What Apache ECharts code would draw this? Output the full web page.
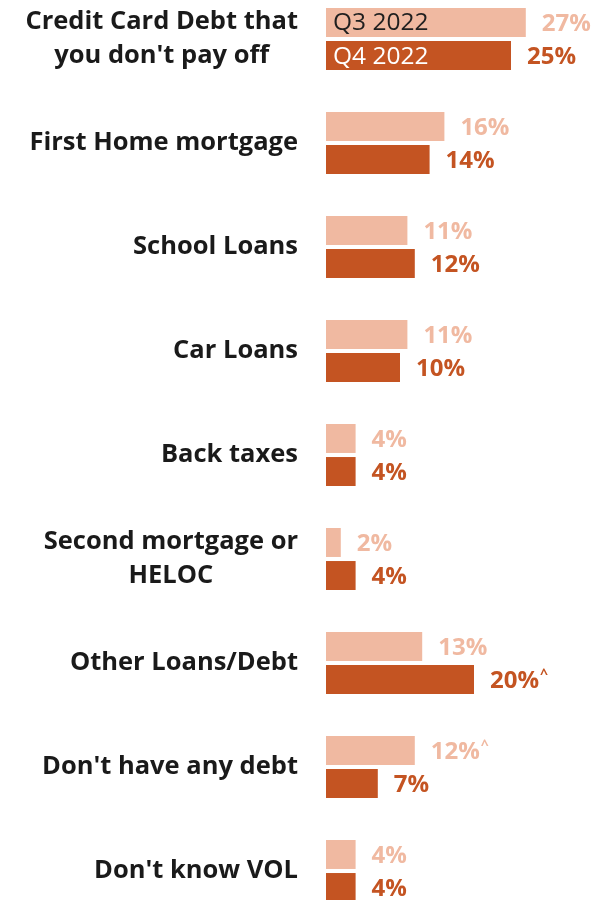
<!DOCTYPE html>
<html>
<head>
<meta charset="utf-8">
<script src="https://cdn.jsdelivr.net/npm/echarts@6/dist/echarts.min.js"></script>
<style>
  html, body { margin: 0; padding: 0; background: #fff; }
  #chart { width: 615px; height: 900px; }
</style>
</head>
<body>
<div id="chart"></div>
<script>
  var categories = ['Credit Card Debt that\nyou don\'t pay off', 'First Home mortgage', 'School Loans', 'Car Loans',
    'Back taxes', 'Second mortgage or\nHELOC', 'Other Loans/Debt', 'Don\'t have any debt', 'Don\'t know VOL']
  var seriesNames = ['Q3 2022', 'Q4 2022']
  var q3Values = [27, 16, 11, 11, 4, 2, 13, 12, 4]
  var q4Values = [25, 14, 12, 10, 4, 4, 20, 7, 4]
  // ^ marks on value labels
  var q3Marks = ['', '', '', '', '', '', '', '^', '']
  var q4Marks = ['', '', '', '', '', '', '^', '', '']

  var lightColor = '#f0b9a1'
  var darkColor = '#c45422'

  function valueLabel (marks, color) {
    return {
      show: true,
      position: 'right',
      distance: 16,
      offset: [0, 2],
      formatter: function (p) {
        var s = '{v|' + p.value + '%}'
        if (marks[p.dataIndex]) s += '{s|' + marks[p.dataIndex] + '}'
        return s
      },
      rich: {
        v: { fontFamily: 'Open Sans', fontWeight: 'bold', fontSize: 24, color: color },
        s: { fontFamily: 'Open Sans', fontWeight: 'bold', fontSize: 14, color: color, padding: [0, 0, 13, 1] }
      }
    }
  }

  var myChart = echarts.init(document.getElementById('chart'))
  myChart.setOption({
    animation: false,
    grid: {
      left: 326,
      right: 30,
      top: -13,
      bottom: -23,
      outerBoundsMode: 'none'
    },
    xAxis: {
      type: 'value',
      min: 0,
      max: 35,
      show: false
    },
    yAxis: {
      type: 'category',
      inverse: true,
      data: categories,
      axisLine: { show: false },
      axisTick: { show: false },
      axisLabel: {
        margin: 28,
        formatter: function (v) {
          return v.split('\n').map(function (l) { return '{c|' + l + '}' }).join('\n')
        },
        rich: {
          c: {
            align: 'center',
            fontFamily: 'Open Sans',
            fontWeight: 'bold',
            fontSize: 25.5,
            lineHeight: 34,
            color: '#1a1a1a'
          }
        }
      }
    },
    series: [{
      name: seriesNames[0],
      type: 'bar',
      data: q3Values,
      barWidth: 29,
      barGap: '14%',
      itemStyle: { color: lightColor },
      label: valueLabel(q3Marks, lightColor)
    }, {
      name: seriesNames[1],
      type: 'bar',
      data: q4Values,
      barWidth: 29,
      barGap: '14%',
      itemStyle: { color: darkColor },
      label: valueLabel(q4Marks, darkColor)
    }]
  })

  // series names written inside the first pair of bars
  var textColors = ['#1f1f1f', '#ffffff']
  var graphics = []
  for (var i = 0; i < 2; i++) {
    var layout = myChart.getModel().getSeriesByIndex(i).getData().getItemLayout(0)
    graphics.push({
      type: 'text',
      x: layout.x + 7,
      y: layout.y + layout.height / 2 + 1,
      z: 10,
      style: {
        text: seriesNames[i],
        fontFamily: 'Open Sans',
        fontSize: 24.5,
        fill: textColors[i],
        verticalAlign: 'middle'
      }
    })
  }
  myChart.setOption({ graphic: graphics })
</script>
</body>
</html>
